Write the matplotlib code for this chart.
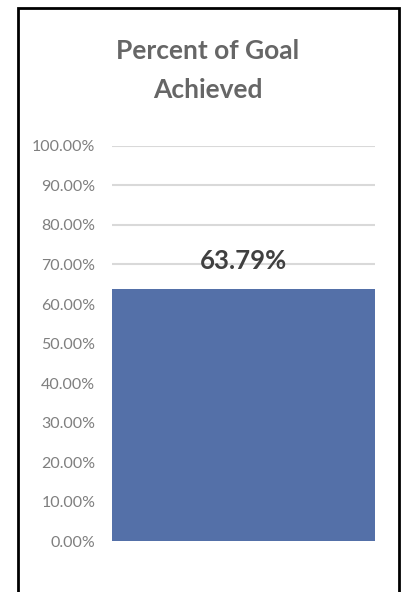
import matplotlib.pyplot as plt
from matplotlib.patches import Rectangle
from matplotlib.ticker import FuncFormatter

plt.rcParams['font.family'] = ['Lato', 'DejaVu Sans']

# data
categories = ['Percent of Goal Achieved']
values = [0.6379]
tick_vals = [i / 10 for i in range(11)]

fig = plt.figure(figsize=(4.04, 5.92), dpi=100)
ax = fig.add_axes([0.277, 0.0861, 0.651, 0.6673])

ax.bar(range(len(values)), values, width=1.0, color='#5470a8', zorder=3)
ax.set_xlim(-0.5, 0.5)
ax.set_ylim(0, 1)
ax.set_yticks(tick_vals)
ax.yaxis.set_major_formatter(FuncFormatter(lambda v, p: f'{v * 100:.2f}%'))
ax.tick_params(axis='y', length=0, pad=12, labelsize=11.5, labelcolor='#7f7f7f')
ax.set_xticks([])
for s in ax.spines.values():
    s.set_visible(False)
ax.grid(axis='y', color='#d9d9d9', linewidth=1.5, zorder=0)

for i, v in enumerate(values):
    ax.annotate(f'{v * 100:.2f}%', (i, v), xytext=(0, 20), textcoords='offset points',
                ha='center', va='center', fontsize=18.5, fontweight='bold', color='#404040')

fig.text(0.515, 0.914, 'Percent of Goal', ha='center', va='center',
         fontsize=19, fontweight='bold', color='#666666')
fig.text(0.515, 0.848, 'Achieved', ha='center', va='center',
         fontsize=19, fontweight='bold', color='#666666')

# chart frame
fig.patches.append(Rectangle((18 / 404, -0.05), 381 / 404, 1.05 - 8 / 592,
                             transform=fig.transFigure, fill=False,
                             edgecolor='black', linewidth=2))

fig.savefig('out.png', dpi=100)
